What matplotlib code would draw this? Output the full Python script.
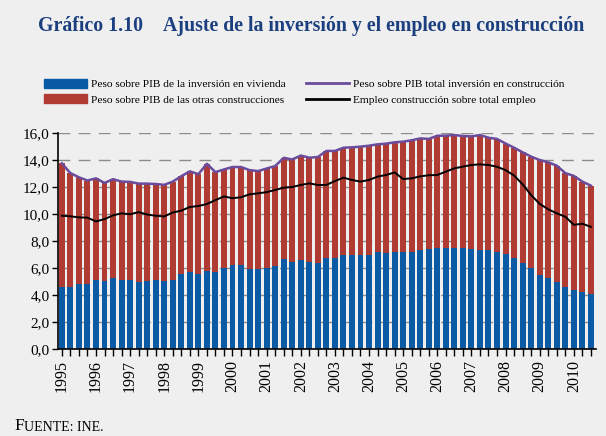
import numpy as np
import matplotlib
matplotlib.use("Agg")
import matplotlib.pyplot as plt
from matplotlib.patches import Patch
from matplotlib.lines import Line2D

# ==================== datos (trimestrales, 1995T1 - 2010T3) ====================
years = [str(y) for y in range(1995, 2011)]

vivienda = [4.59, 4.59, 4.79, 4.79, 5.14, 5.04, 5.23, 5.14, 5.14, 4.94, 5.04,
            5.14, 5.04, 5.14, 5.56, 5.68, 5.56, 5.80, 5.68, 6.00, 6.25, 6.22,
            5.93, 5.93, 6.02, 6.12, 6.67, 6.42, 6.57, 6.42, 6.37, 6.77,
            6.77, 6.96, 6.96, 6.96, 6.96, 7.19, 7.14, 7.21, 7.21, 7.21, 7.31,
            7.41, 7.46, 7.46, 7.46, 7.46, 7.41, 7.31, 7.31, 7.21, 7.01,
            6.77, 6.35, 5.98, 5.48, 5.23, 4.94, 4.62, 4.37, 4.25, 4.05]

total_construccion = [13.75, 13.03, 12.72, 12.48, 12.64, 12.30, 12.58, 12.40, 12.38, 12.25, 12.25,
                      12.22, 12.16, 12.40, 12.80, 13.16, 12.95, 13.72, 13.10, 13.30, 13.48, 13.48,
                      13.25, 13.18, 13.37, 13.55, 14.16, 14.04, 14.33, 14.17, 14.22, 14.67,
                      14.67, 14.91, 14.94, 14.99, 15.06, 15.16, 15.21, 15.31, 15.36, 15.46, 15.60,
                      15.56, 15.80, 15.80, 15.85, 15.78, 15.75, 15.85, 15.65, 15.56, 15.22,
                      14.91, 14.57, 14.25, 14.00, 13.83, 13.58, 13.03, 12.82, 12.40, 12.10]

empleo = [9.87, 9.83, 9.75, 9.73, 9.45, 9.62, 9.90, 10.05, 9.98, 10.14, 9.96,
          9.87, 9.82, 10.11, 10.25, 10.52, 10.59, 10.74, 11.03, 11.30, 11.17, 11.24,
          11.46, 11.53, 11.62, 11.78, 11.95, 12.00, 12.15, 12.27, 12.15, 12.15,
          12.44, 12.69, 12.52, 12.40, 12.52, 12.77, 12.89, 13.08, 12.59, 12.64, 12.79,
          12.87, 12.89, 13.14, 13.38, 13.51, 13.63, 13.68, 13.63, 13.50, 13.25,
          12.85, 12.20, 11.40, 10.75, 10.35, 10.05, 9.80, 9.20, 9.28, 9.05]

otras = [t - v for t, v in zip(total_construccion, vivienda)]

# ==================== estilo ====================
plt.rcParams['font.family'] = ['Liberation Serif', 'DejaVu Serif']
fondo = '#efefef'
azul = '#0a5aa6'
rojo = '#b03b33'
morado = '#6a4c9c'

fig = plt.figure(figsize=(6.06, 4.36), dpi=100, facecolor=fondo)
ax = fig.add_axes([58 / 606, 1 - 349 / 436, 538 / 606, 216 / 436], facecolor=fondo)

x = np.arange(len(vivienda))
ax.bar(x, vivienda, width=0.7, color=azul, zorder=2)
ax.bar(x, otras, width=0.7, bottom=vivienda, color=rojo, zorder=2)
ax.plot(x, total_construccion, color=morado, linewidth=1.8, zorder=3)
ax.plot(x, empleo, color='black', linewidth=1.4, zorder=4)

ax.set_ylim(0, 16)
ax.set_xlim(-0.45, len(x) - 0.4)
ax.set_yticks(np.arange(0, 17, 2))
ax.set_yticklabels([f"{v:.1f}".replace('.', ',') for v in np.arange(0, 17, 2)], fontsize=11)
ax.set_xticks(np.arange(0, len(x), 4))
ax.set_xticklabels(years, rotation=90, fontsize=11.5)
ax.set_xticks(x, minor=True)
ax.tick_params(axis='x', which='both', length=5, width=1, direction='out', pad=3)
ax.tick_params(axis='y', length=4, width=1, pad=2)

ax.yaxis.grid(True, linestyle=(0, (8.5, 6)), color='#8c8c8c', linewidth=1)
ax.set_axisbelow(True)
for s in ['top', 'right']:
    ax.spines[s].set_visible(False)
for s in ['left', 'bottom']:
    ax.spines[s].set_linewidth(1.2)

# ==================== leyenda ====================
handles = [Patch(color=azul), Patch(color=rojo),
           Line2D([], [], color=morado, linewidth=2), Line2D([], [], color='black', linewidth=2)]
labels = ['Peso sobre PIB de la inversión en vivienda',
          'Peso sobre PIB de las otras construcciones',
          'Peso sobre PIB total inversión en construcción',
          'Empleo construcción sobre total empleo']
fig.legend(handles, labels, ncol=2, loc='upper left', bbox_to_anchor=(44 / 606, 1 - 79 / 436),
           frameon=False, fontsize=8.2, handlelength=3.8, handleheight=0.8, handletextpad=0.3,
           columnspacing=1.8, labelspacing=0.45, borderaxespad=0, borderpad=0)

# ==================== títulos ====================
fig.text(38 / 606, 1 - 26 / 436, 'Gráfico 1.10', fontsize=14.3, fontweight='bold', color='#1c3f7f', va='center')
fig.text(163 / 606, 1 - 26 / 436, 'Ajuste de la inversión y el empleo en construcción',
         fontsize=14.3, fontweight='bold', color='#1c3f7f', va='center')
fig.text(14 / 606, 2 / 436, 'F', fontsize=12.5, va='bottom')
fig.text(24 / 606, 2 / 436, 'UENTE: INE.', fontsize=10, va='bottom')

fig.savefig('out.png', dpi=100, facecolor=fondo)
